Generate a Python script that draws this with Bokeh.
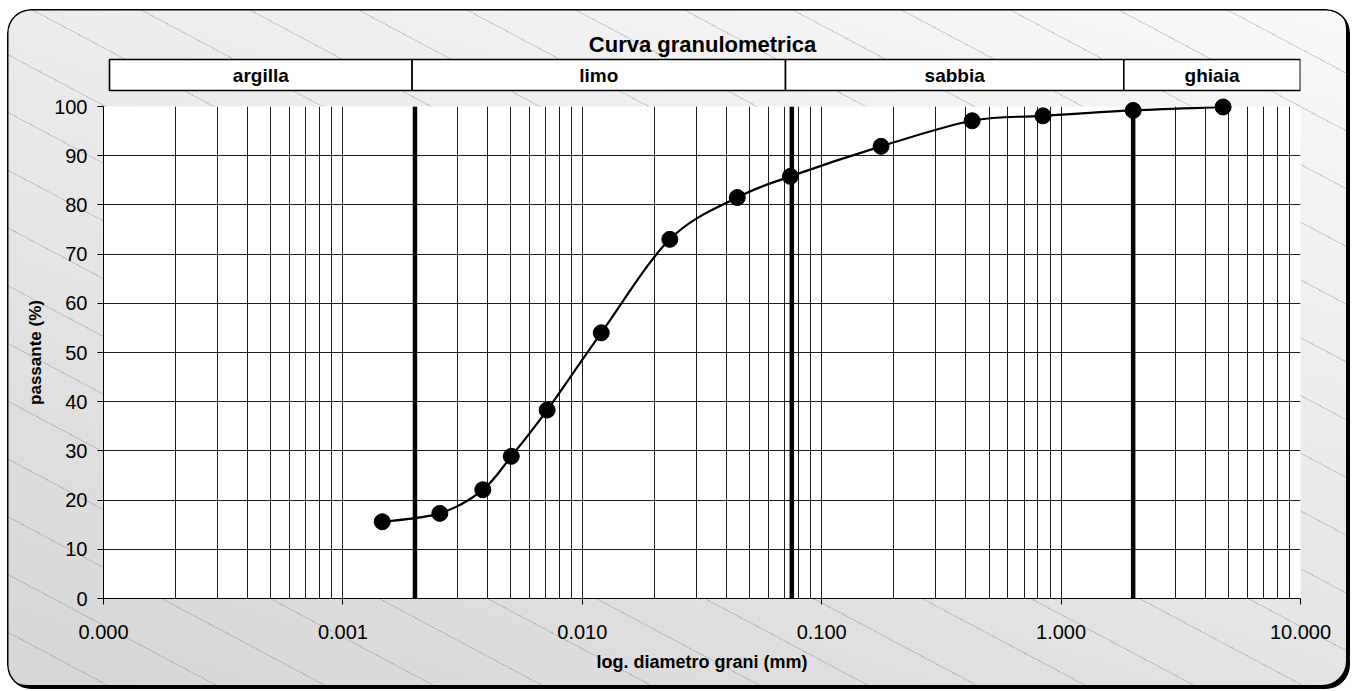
import numpy as np
from bokeh.plotting import figure
from bokeh.layouts import column
from bokeh.models import Range1d, FixedTicker, NumeralTickFormatter, Label, ColumnDataSource
from bokeh.core.properties import value
from bokeh.embed import file_html
from bokeh.resources import INLINE

# ---------------- data ----------------
diam_mm = [0.00146, 0.00254, 0.00384, 0.00505, 0.00713, 0.0120, 0.0232,
           0.0444, 0.0740, 0.177, 0.425, 0.84, 2.0, 4.75]
passing_pct = [15.6, 17.3, 22.1, 28.9, 38.3, 54.0, 73.0,
               81.5, 85.8, 91.9, 97.1, 98.1, 99.2, 99.9]
class_names = ["argilla", "limo", "sabbia", "ghiaia"]
class_limits = [0.002, 0.075, 2.0]
header_ends = [0.000106, 11.1]
x_ticks = [0.0001, 0.001, 0.01, 0.1, 1.0, 10.0]
y_ticks = [0, 10, 20, 30, 40, 50, 60, 70, 80, 90, 100]
title_text = "Curva granulometrica"
x_title = "log. diametro grani (mm)"
y_title = "passante (%)"

FONT = "Liberation Sans"
W = 1343
HDR_H = 83
MAIN_H = 597
LEFT = 96
FRAME_W = 1197
FRAME_H = 492
MAIN_TOP = 14

# ---------------- header figure ----------------
hdr_frame_w = 1208
hdr_end = 10 ** (np.log10(x_ticks[0]) + (np.log10(x_ticks[-1]) - np.log10(x_ticks[0])) * hdr_frame_w / FRAME_W)
hdr = figure(width=W, height=HDR_H, x_axis_type="log",
             x_range=Range1d(x_ticks[0], hdr_end), y_range=Range1d(0, HDR_H),
             x_axis_location=None, y_axis_location=None,
             toolbar_location=None, output_backend="svg",
             min_border_left=LEFT, min_border_right=W - LEFT - hdr_frame_w,
             min_border_top=0, min_border_bottom=0)
hdr.background_fill_alpha = 0
hdr.border_fill_alpha = 0
hdr.outline_line_color = None
hdr.xgrid.visible = False
hdr.ygrid.visible = False

edges = [header_ends[0]] + class_limits + [header_ends[1]]
lefts = edges[:-1]
rights = edges[1:]
centers = [np.sqrt(l * r) for l, r in zip(lefts, rights)]
hsrc = ColumnDataSource(dict(left=lefts, right=rights, cx=centers, name=class_names))
hdr.quad(left="left", right="right", bottom=2, top=33, source=hsrc,
         fill_color="white", line_color="black", line_width=1.6)
hdr.text(x="cx", y=17, text="name", source=hsrc, text_font=value(FONT),
         text_font_style="bold", text_font_size="19px", text_align="center",
         text_baseline="middle", text_color="black")
title_x = np.sqrt(x_ticks[0] * x_ticks[-1])
hdr.add_layout(Label(x=title_x, y=48, x_offset=6, text=title_text, text_font=FONT,
                     text_font_style="bold", text_font_size="22px",
                     text_align="center", text_baseline="middle", text_color="black"))

# ---------------- main figure ----------------
p = figure(width=W, height=MAIN_H, x_axis_type="log",
           x_range=Range1d(x_ticks[0], x_ticks[-1]), y_range=Range1d(y_ticks[0], y_ticks[-1]),
           toolbar_location=None, output_backend="svg",
           min_border_left=LEFT, min_border_right=W - LEFT - FRAME_W,
           min_border_top=MAIN_TOP, min_border_bottom=MAIN_H - MAIN_TOP - FRAME_H)
p.background_fill_color = "white"
p.border_fill_alpha = 0
p.outline_line_color = None

minor = [k * t for t in x_ticks[:-1] for k in range(2, 10)]
p.xaxis.ticker = FixedTicker(ticks=x_ticks, minor_ticks=minor)
p.xaxis.formatter = NumeralTickFormatter(format="0.000")
p.yaxis.ticker = FixedTicker(ticks=y_ticks)
p.xgrid.ticker = FixedTicker(ticks=x_ticks, minor_ticks=minor)
p.ygrid.ticker = FixedTicker(ticks=y_ticks[1:-1])
p.xgrid.grid_line_color = "#1e1e1e"
p.xgrid.minor_grid_line_color = "#1e1e1e"
p.ygrid.grid_line_color = "#1e1e1e"
for g in (p.xgrid, p.ygrid):
    g.grid_line_width = 1

for ax in (p.xaxis, p.yaxis):
    ax.axis_line_color = "black"
    ax.axis_line_width = 1
    ax.major_tick_line_color = "black"
    ax.major_tick_out = 6
    ax.major_tick_in = 0
    ax.minor_tick_out = 0
    ax.minor_tick_in = 0
    ax.major_label_text_font = FONT
    ax.major_label_text_font_size = "20px"
    ax.major_label_text_color = "black"
    ax.axis_label_text_font = FONT
    ax.axis_label_text_font_style = "bold"
    ax.axis_label_text_color = "black"

p.xaxis.axis_label = x_title
p.yaxis.axis_label = y_title
p.xaxis.axis_label_text_font_size = "18px"
p.yaxis.axis_label_text_font_size = "17px"
p.xaxis.major_label_standoff = 20
p.yaxis.major_label_standoff = 10
p.xaxis.axis_label_standoff = 10
p.yaxis.axis_label_standoff = 6

# class boundaries
p.segment(x0=class_limits, y0=[y_ticks[0]] * 3, x1=class_limits, y1=[y_ticks[-1]] * 3,
          line_color="black", line_width=4.5)

# smooth curve (Catmull-Rom bezier in log-x space)
lx = np.log10(np.array(diam_mm))
yy = np.array(passing_pct)
n = len(lx)
x0s, y0s, x1s, y1s, cx0s, cy0s, cx1s, cy1s = [], [], [], [], [], [], [], []
for i in range(n - 1):
    ip = max(i - 1, 0)
    inn = min(i + 2, n - 1)
    c0x = lx[i] + (lx[i + 1] - lx[ip]) / 6
    c0y = yy[i] + (yy[i + 1] - yy[ip]) / 6
    c1x = lx[i + 1] - (lx[inn] - lx[i]) / 6
    c1y = yy[i + 1] - (yy[inn] - yy[i]) / 6
    x0s.append(10 ** lx[i]); y0s.append(yy[i])
    x1s.append(10 ** lx[i + 1]); y1s.append(yy[i + 1])
    cx0s.append(10 ** c0x); cy0s.append(c0y)
    cx1s.append(10 ** c1x); cy1s.append(c1y)
p.bezier(x0=x0s, y0=y0s, x1=x1s, y1=y1s, cx0=cx0s, cy0=cy0s, cx1=cx1s, cy1=cy1s,
         line_color="black", line_width=2.2)

pts = p.scatter(x=diam_mm, y=passing_pct, size=16, marker="circle",
                fill_color="black", line_color="black")
pts.level = "overlay"

layout = column(hdr, p, spacing=0, styles={
    "margin": "9px 0 0 7px",
    "background": ("repeating-linear-gradient(28deg, rgba(0,0,0,0) 0px, rgba(0,0,0,0) 50px, "
                   "rgba(120,120,120,0.32) 50px, rgba(120,120,120,0.32) 51px), "
                   "linear-gradient(17deg, #d6d6d6 0%, #f9f9f9 100%)"),
    "border-radius": "24px",
    "box-shadow": "inset 0 0 0 1.5px #000, inset -4px -4px 0 0 #000",
})

open("out.html", "w").write(file_html(layout, INLINE))
